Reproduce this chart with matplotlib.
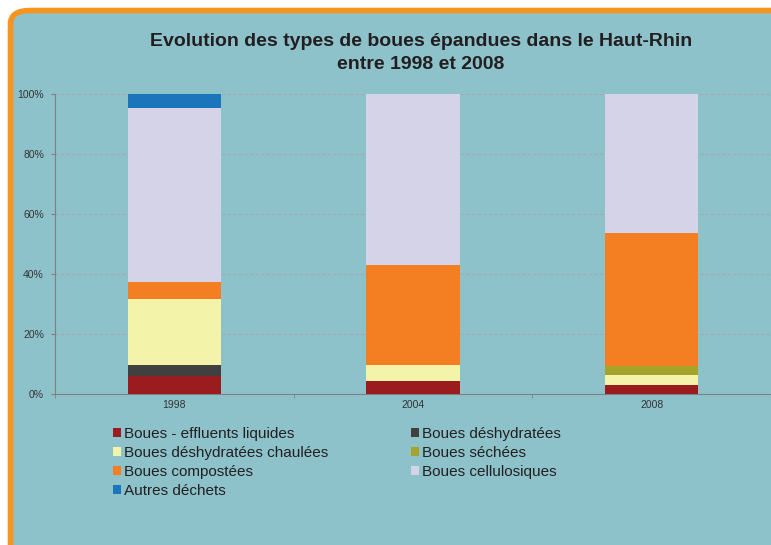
import matplotlib.pyplot as plt
from matplotlib.patches import FancyBboxPatch, Patch
from matplotlib.ticker import FuncFormatter
import numpy as np

years = ["1998", "2004", "2008"]
categories = ["Boues - effluents liquides", "Boues déshydratées",
              "Boues déshydratées chaulées", "Boues séchées",
              "Boues compostées", "Boues cellulosiques", "Autres déchets"]
liquides = [5.9, 4.5, 3.0]
deshydratees = [3.7, 0.0, 0.0]
chaulees = [22.1, 5.1, 3.4]
sechees = [0.0, 0.0, 3.0]
compostees = [5.6, 33.5, 44.2]
cellulosiques = [58.0, 56.9, 46.4]
autres = [4.7, 0.0, 0.0]

series = [liquides, deshydratees, chaulees, sechees, compostees, cellulosiques, autres]
colors = ["#9B1C1F", "#404040", "#F3F3AA", "#A4A42C", "#F47F22", "#D5D3E8", "#1B75BB"]

bg = "#8DC2CB"
plt.rcParams['font.family'] = ['Liberation Sans', 'DejaVu Sans']

fig = plt.figure(figsize=(7.71, 5.45), dpi=100)
fig.patch.set_facecolor("white")

# rounded panel with orange border
W, H = 771.0, 545.0
panel = FancyBboxPatch((10.5 / W, -20 / H), (W + 20) / W, (H + 20 - 10.5) / H,
                       boxstyle="round,pad=0,rounding_size=0.025",
                       transform=fig.transFigure, facecolor=bg,
                       edgecolor="#F7941D", linewidth=4, zorder=-5)
fig.patches.append(panel)

ax = fig.add_axes([55 / W, 1 - 394 / H, (771 - 55) / W, (394 - 94) / H])
ax.set_facecolor("none")
ax.set_zorder(2)

x = np.arange(len(years))
bottom = np.zeros(len(years))
for vals, c in zip(series, colors):
    ax.bar(x, vals, bottom=bottom, width=0.39, color=c, zorder=3)
    bottom += np.array(vals)

ax.set_xlim(-0.5, 2.5)
ax.set_ylim(0, 100)
ax.set_yticks(range(0, 101, 20))
ax.yaxis.set_major_formatter(FuncFormatter(lambda v, p: f"{int(v)}%"))
ax.set_xticks(x)
ax.set_xticklabels(years)
ax.set_xticks([-0.5, 0.5, 1.5, 2.5], minor=True)
ax.tick_params(axis="x", which="major", length=0, labelsize=7.5, colors="#333333", pad=4)
ax.tick_params(axis="x", which="minor", length=3, color="#808080", direction="out")
ax.tick_params(axis="y", length=3, color="#808080", labelsize=7.5, labelcolor="#333333", pad=5)
ax.grid(axis="y", color="#A8A8A8", linestyle=(0, (3, 2)), linewidth=0.8, zorder=1)
for s in ["top", "right"]:
    ax.spines[s].set_visible(False)
ax.spines["left"].set_color("#808080")
ax.spines["bottom"].set_color("#808080")

fig.text(421 / W, 1 - 53 / H,
         "Evolution des types de boues épandues dans le Haut-Rhin\nentre 1998 et 2008",
         ha="center", va="center", fontsize=14, fontweight="bold",
         color="#231F20", linespacing=1.45)

handles = [Patch(facecolor=c, edgecolor="none") for c in colors]
order = [0, 2, 4, 6, 1, 3, 5]
leg = fig.legend([handles[i] for i in order], [categories[i] for i in order],
                 loc="upper left", bbox_to_anchor=(113 / W, 1 - 427 / H), ncol=2,
                 frameon=False, fontsize=11, handlelength=0.52, handleheight=0.52,
                 handletextpad=0.2, columnspacing=5.4, labelspacing=0.32,
                 borderpad=0, borderaxespad=0)
for t in leg.get_texts():
    t.set_color("#231F20")

fig.savefig("out.png", dpi=100, facecolor=fig.get_facecolor())
